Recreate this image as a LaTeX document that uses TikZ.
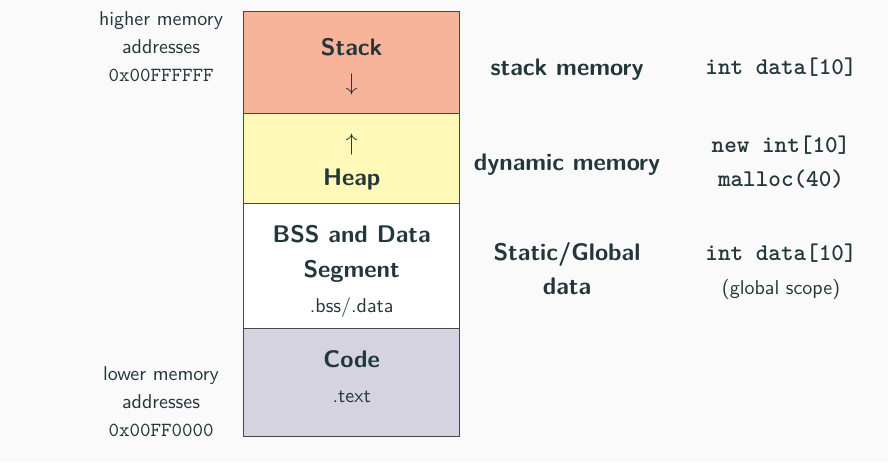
\documentclass[tikz,border=0pt]{standalone}
\definecolor{ink}{HTML}{23373B}
\definecolor{segline}{HTML}{3E4A4C}
\definecolor{paper}{HTML}{FAFAFA}
\definecolor{stackfill}{HTML}{F8B39B}
\definecolor{heapfill}{HTML}{FFF8B9}
\definecolor{codefill}{HTML}{D5D3E0}
\begin{document}
\begin{tikzpicture}[x=0.5pt,y=-0.5pt,
  seg/.style={draw=segline,line width=0.7pt,minimum width=108pt,inner sep=0pt,anchor=north west},
  segtext/.style={align=center,text=ink,font=\sffamily\bfseries\fontsize{12}{17.5}\selectfont},
  addr/.style={align=center,text=ink,font=\sffamily\fontsize{10}{14}\selectfont},
  kind/.style={align=center,text=ink,font=\sffamily\bfseries\fontsize{12}{17}\selectfont},
  code/.style={align=center,text=ink,font=\ttfamily\bfseries\fontsize{12}{17}\selectfont}]
\fill[paper] (0,0) rectangle (888,462);

% memory column
\node[seg,fill=stackfill,minimum height=51pt] (stack) at (243,11) {};
\node[seg,fill=heapfill,minimum height=45pt] (heap) at (243,113) {};
\node[seg,fill=white,minimum height=62.5pt] (bss) at (243,203) {};
\node[seg,fill=codefill,minimum height=54pt] (code) at (243,328) {};

\node[segtext] (stacktxt) at ([yshift=-2pt]stack.center) {Stack\\{\mdseries$\downarrow$}};
\node[segtext] (heaptxt) at ([yshift=-1.5pt]heap.center) {{\mdseries$\uparrow$}\\Heap};
\node[segtext] (bsstxt) at ([yshift=-2.5pt]bss.center)
  {BSS and Data\\Segment\\{\mdseries\fontsize{10}{14}\selectfont .bss/.data}};
\node[segtext] (codetxt) at ([yshift=3pt]code.center)
  {Code\\{\mdseries\fontsize{10}{14}\selectfont .text}};

% addresses
\node[addr] (high) at (161,47) {higher memory\\addresses\\\texttt{0x00FFFFFF}};
\node[addr] (low) at (161,402) {lower memory\\addresses\\\texttt{0x00FF0000}};

% kinds of memory
\node[kind] (stackmem) at (567,70) {stack memory};
\node[kind] (dynmem) at (567,165) {dynamic memory};
\node[kind] (statmem) at (567,269) {Static/Global\\data};

% examples
\node[code] (stackex) at (781,67) {int data[10]};
\node[code] (dynex) at (781,162) {new int[10]\\malloc(40)};
\node[code] (statex) at (781,253) {int data[10]};
\node[addr] (scope) at (781,289) {(global scope)};
\end{tikzpicture}
\end{document}
